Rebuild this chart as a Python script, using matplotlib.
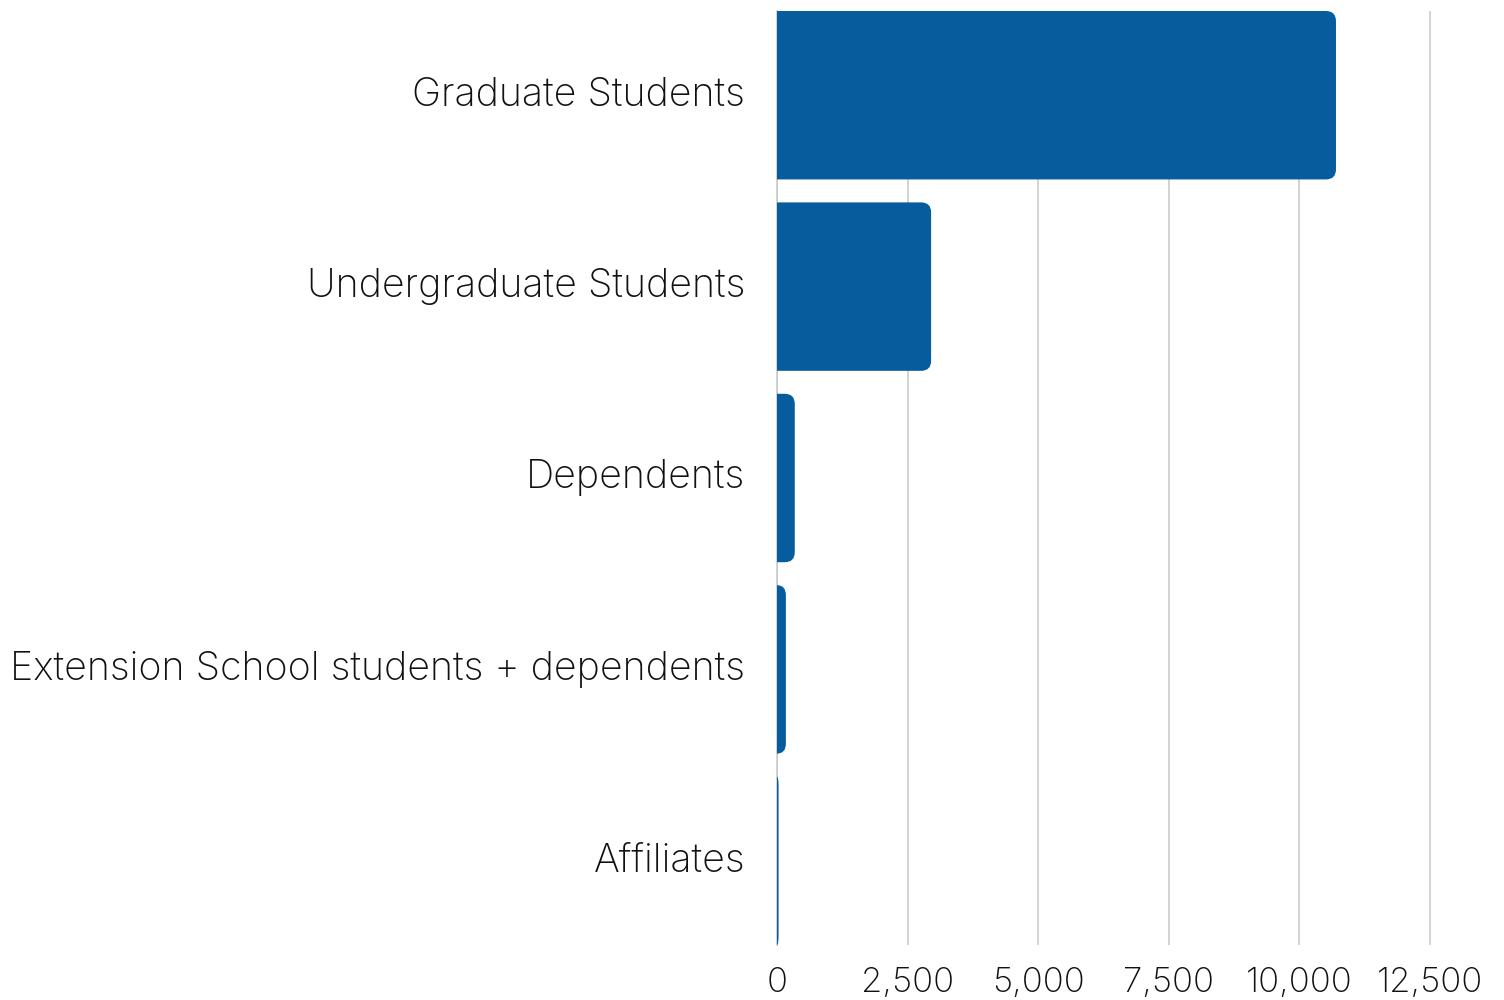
import matplotlib
matplotlib.use("Agg")
import matplotlib.pyplot as plt
import matplotlib.transforms as mtransforms
from matplotlib.path import Path
from matplotlib.patches import PathPatch
from matplotlib.ticker import FuncFormatter

categories = ["Graduate Students", "Undergraduate Students", "Dependents",
              "Extension School students + dependents", "Affiliates"]
values = [10700, 2950, 340, 170, 30]
xticks = [0, 2500, 5000, 7500, 10000, 12500]

bar_color = "#065c9c"
grid_color = "#cccccc"

plt.rcParams['font.family'] = ['Inter', 'DejaVu Sans']

fig = plt.figure(figsize=(15.04, 10), dpi=100)
# axes placed in pixel terms
left_px, right_px, top_px, bottom_px = 777, 1490, 11, 945
ax = fig.add_axes([left_px / 1504, 1 - bottom_px / 1000,
                   (right_px - left_px) / 1504, (bottom_px - top_px) / 1000])

px_per_unit = (1430 - 777) / 12500
ax.set_xlim(0, (right_px - left_px) / px_per_unit)
bar_h = 0.88
ax.set_ylim(len(categories) - 1 + bar_h / 2, -bar_h / 2)

bars = ax.barh(range(len(categories)), values, height=bar_h, color=bar_color)

# swap the plain rectangles for ones with rounded right corners
rad_px = 10
rx_unit = rad_px / px_per_unit
ry_unit = rad_px / ((bottom_px - top_px) / (len(categories) - 1 + bar_h))
for rect in bars:
    x, y = rect.get_x(), rect.get_y()
    w, h = rect.get_width(), rect.get_height()
    rx = min(rx_unit, w)
    ry = min(ry_unit, h / 2)
    verts = [(x, y), (x + w - rx, y), (x + w, y), (x + w, y + ry),
             (x + w, y + h - ry), (x + w, y + h), (x + w - rx, y + h),
             (x, y + h), (x, y)]
    codes = [Path.MOVETO, Path.LINETO, Path.CURVE3, Path.CURVE3,
             Path.LINETO, Path.CURVE3, Path.CURVE3, Path.LINETO, Path.CLOSEPOLY]
    rect.set_visible(False)
    ax.add_patch(PathPatch(Path(verts, codes), facecolor=bar_color,
                           edgecolor="none", zorder=3))

ax.set_yticks(range(len(categories)))
ax.set_yticklabels(categories)
ax.set_xticks(xticks)
ax.xaxis.set_major_formatter(FuncFormatter(lambda v, p: f"{int(v):,}"))

ax.grid(axis="x", color=grid_color, linewidth=1.2, zorder=0)
ax.set_axisbelow(True)
for s in ["top", "right", "bottom"]:
    ax.spines[s].set_visible(False)
ax.spines["left"].set_color(grid_color)
ax.spines["left"].set_linewidth(1.2)

ax.tick_params(axis="y", length=0, pad=23, labelsize=28.3, labelcolor="#111111")
ax.tick_params(axis="x", length=0, pad=16, labelsize=25, labelcolor="#111111")
shift = mtransforms.ScaledTranslation(0, 4 / 100, fig.dpi_scale_trans)
for lab in ax.get_yticklabels():
    lab.set_va("center_baseline")
    lab.set_fontweight("light")
    lab.set_transform(lab.get_transform() + shift)
for lab in ax.get_xticklabels():
    lab.set_fontweight("light")

fig.savefig("out.png", dpi=100, facecolor="white")
